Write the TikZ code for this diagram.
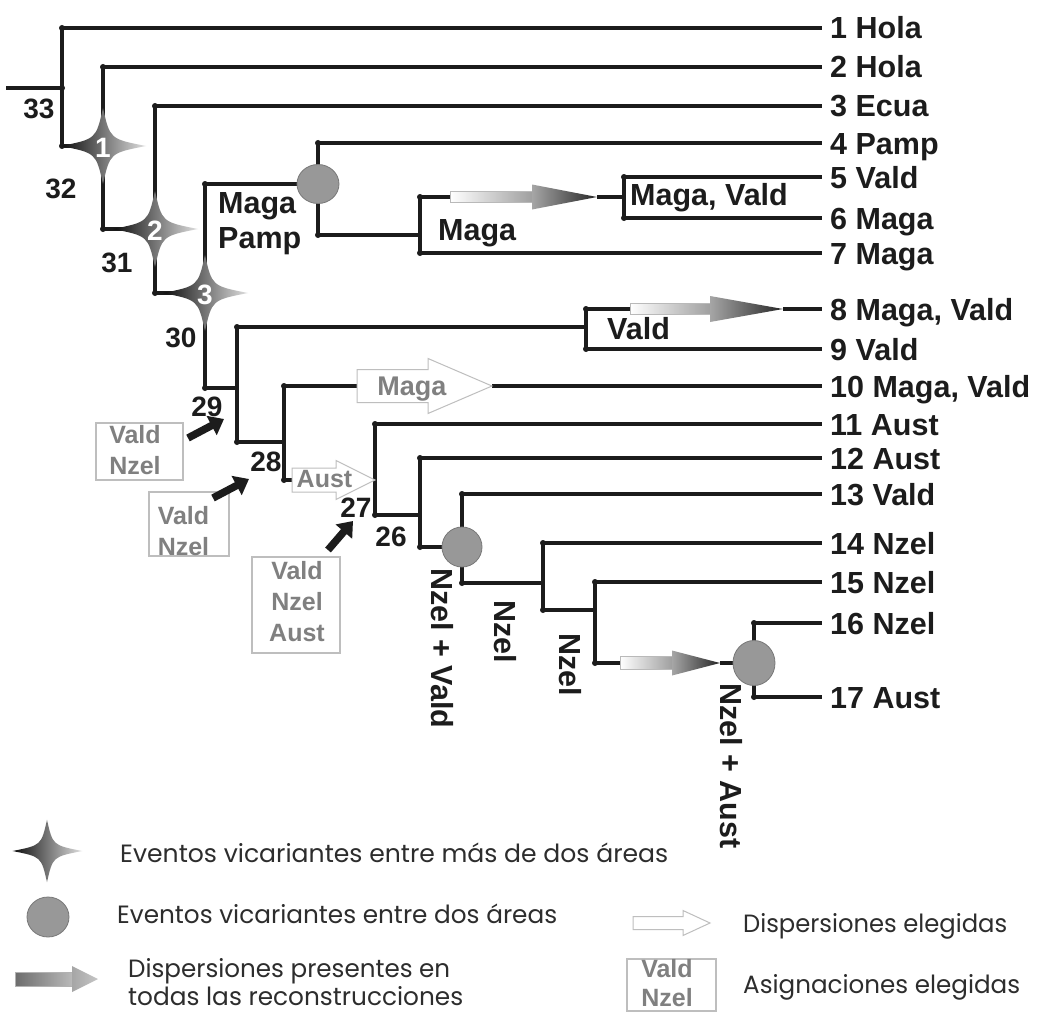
\documentclass[tikz,border=0pt]{standalone}
\usepackage{fontspec}
\setmainfont{Liberation Sans}
\newfontfamily\legfont{Poppins}
\usepackage{graphicx}
\usetikzlibrary{calc,arrows.meta,shapes.geometric}
\definecolor{treeline}{RGB}{28,28,28}
\definecolor{circfill}{RGB}{152,152,152}
\definecolor{circdraw}{RGB}{120,120,120}
\definecolor{gtext}{RGB}{128,128,128}
\definecolor{gbord}{RGB}{190,190,190}
\definecolor{legtext}{RGB}{45,45,45}
\newcommand{\gradarr}[5]{%
  \path[draw=gray!55, line width=0.6pt, left color=white, right color=gray!75]
    ($(#1)+(0,-#4)$) rectangle ($(#2)+(-#3,#4)$);
  \path[left color=gray!70, right color=black!85]
    ($(#2)+(-#3,-#5)$) -- (#2) -- ($(#2)+(-#3,#5)$) -- cycle;
}
\newcommand{\hollowarr}[5]{%
  \draw[hol] ($(#1)+(0,-#4)$) -- ($(#2)+(-#3,-#4)$) -- ($(#2)+(-#3,-#5)$) -- (#2)
    -- ($(#2)+(-#3,#5)$) -- ($(#2)+(-#3,#4)$) -- ($(#1)+(0,#4)$) -- cycle;
}
\tikzset{
  tree/.style={draw=treeline, line width=3.3pt},
  leaf/.style={anchor=base west, inner sep=0, font=\bfseries\fontsize{30.5}{36}\selectfont, text=treeline},
  rlab/.style={leaf, anchor=west, rotate=-90},
  num/.style={inner sep=0, font=\bfseries\fontsize{28}{32}\selectfont, text=treeline},
  starnum/.style={inner sep=0, font=\bfseries\fontsize{28}{32}\selectfont, text=white},
  vcirc/.style={ellipse, draw=circdraw, fill=circfill, line width=0.8pt, inner sep=0},
  gbox/.style={draw=gbord, line width=1.2pt, inner sep=0},
  gtxt/.style={inner sep=0, align=center, font=\bfseries\fontsize{25}{31}\selectfont, text=gtext},
  blkarr/.style={draw=treeline, line width=7.5pt, -{Triangle[length=14pt,width=21pt]}},
  leg/.style={anchor=base west, inner sep=0, font=\legfont\fontsize{25}{30}\selectfont, text=legtext},
  hol/.style={draw=gbord, line width=1pt, fill=white},
  vstar/.pic={
    \path[left color=black!95, right color=gray!25]
      (0,-38) .. controls (7,-7) .. (43,0) .. controls (7,7) .. (0,38)
      .. controls (-7,7) .. (-42,0) .. controls (-7,-7) .. cycle;
  }
}
\begin{document}
\begin{tikzpicture}[x=1pt,y=-1pt]
\fill[white] (0,0) rectangle (1044,1014);
\useasboundingbox (0,0) rectangle (1044,1014);
% internal nodes
\coordinate (r) at (6,88);
\coordinate (n33) at (62,88);
\coordinate (n32) at (103,146);
\coordinate (n31) at (155,229);
\coordinate (n30) at (205,293);
\coordinate (nMP) at (318,184);
\coordinate (n7) at (420,235);
\coordinate (n56) at (624,197);
\coordinate (n29) at (237,388);
\coordinate (n89) at (586,327);
\coordinate (n28) at (284,442);
\coordinate (n27) at (375,480);
\coordinate (n26) at (420,515);
\coordinate (nC) at (462,547);
\coordinate (n14) at (543,583);
\coordinate (n15) at (595,610);
\coordinate (nC2) at (754,663);
% leaves
\coordinate (l1) at (822,28);
\coordinate (l2) at (822,67);
\coordinate (l3) at (822,106);
\coordinate (l4) at (822,143);
\coordinate (l5) at (822,177);
\coordinate (l6) at (822,218);
\coordinate (l7) at (822,253);
\coordinate (l8) at (822,309);
\coordinate (l9) at (822,349);
\coordinate (l10) at (822,386);
\coordinate (l11) at (822,424);
\coordinate (l12) at (822,458);
\coordinate (l13) at (822,494);
\coordinate (l14) at (822,543);
\coordinate (l15) at (822,582);
\coordinate (l16) at (822,623);
\coordinate (l17) at (822,697);
% arrow ends
\coordinate (a1s) at (450,197); \coordinate (a1e) at (597,197);
\coordinate (a2s) at (630,309); \coordinate (a2e) at (783,309);
\coordinate (a3s) at (620,663); \coordinate (a3e) at (720,663);
\coordinate (h1s) at (357,386); \coordinate (h1e) at (492,386);
\coordinate (h2s) at (292,480);
% tree branches
\draw[tree] (r) -- (n33);
\draw[tree] (n33) |- (l1); \draw[tree] (n33) |- (n32);
\draw[tree] (n32) |- (l2); \draw[tree] (n32) |- (n31);
\draw[tree] (n31) |- (l3); \draw[tree] (n31) |- (n30);
\draw[tree] (n30) |- (nMP); \draw[tree] (n30) |- (n29);
\draw[tree] (nMP) |- (l4); \draw[tree] (nMP) |- (n7);
\draw[tree] (n7) |- (a1s); \draw[tree] (a1e) -- (n56); \draw[tree] (n7) |- (l7);
\draw[tree] (n56) |- (l5); \draw[tree] (n56) |- (l6);
\draw[tree] (n29) |- (n89); \draw[tree] (n29) |- (n28);
\draw[tree] (n89) |- (a2s); \draw[tree] (a2e) -- (l8); \draw[tree] (n89) |- (l9);
\draw[tree] (n28) |- (h1s); \draw[tree] (h1e) -- (l10); \draw[tree] (n28) |- (h2s);
\draw[tree] (n27) |- (l11); \draw[tree] (n27) |- (n26);
\draw[tree] (n26) |- (l12); \draw[tree] (n26) |- (nC);
\draw[tree] (nC) |- (l13); \draw[tree] (nC) |- (n14);
\draw[tree] (n14) |- (l14); \draw[tree] (n14) |- (n15);
\draw[tree] (n15) |- (l15); \draw[tree] (n15) |- (a3s); \draw[tree] (a3e) -- (nC2);
\draw[tree] (nC2) |- (l16); \draw[tree] (nC2) |- (l17);
% junction dots
\foreach \a/\b in {n33/n33,n33/l1,n33/n32,n32/l2,n32/n31,n31/l3,n31/n30,n30/nMP,n30/n29,
  nMP/l4,nMP/n7,n7/a1s,n7/l7,n56/l5,n56/l6,n29/n89,n29/n28,n89/a2s,n89/l9,n28/h1s,n28/h2s,
  n27/l11,n27/n26,n26/l12,n26/nC,nC/l13,nC/n14,n14/l14,n14/n15,n15/l15,n15/a3s,nC2/l16,nC2/l17}
  \fill[treeline] (\a|-\b) circle (3);
% dispersal arrows
\gradarr{a1s}{a1e}{65}{5.5}{12.5}
\gradarr{a2s}{a2e}{73}{5.5}{13}
\gradarr{a3s}{a3e}{48}{6.5}{12.5}
\hollowarr{h1s}{h1e}{64}{16.5}{27.5}
\hollowarr{h2s}{n27}{39}{12}{19.5}
\node[gtxt, anchor=base, font=\bfseries\fontsize{27}{32}\selectfont] (hm) at (412,395) {Maga};
\node[gtxt, anchor=base] (ha) at (324.5,487) {Aust};
% vicariance circles
\node[vcirc, minimum width=42, minimum height=39] (cMP) at (nMP) {};
\node[vcirc, minimum width=40, minimum height=40] (cC) at (nC) {};
\node[vcirc, minimum width=42, minimum height=45] (cC2) at (nC2) {};
% vicariance stars
\pic at (n32) {vstar};
\pic at (n31) {vstar};
\pic at (n30) {vstar};
\node[starnum] (s1) at ($(n32)+(0,2)$) {1};
\node[starnum] (s2) at ($(n31)+(0,2)$) {2};
\node[starnum] (s3) at ($(n30)+(0,2)$) {3};
% node numbers
\node[num] (k33) at (39,109) {33};
\node[num] (k32) at (61,189) {32};
\node[num] (k31) at (117,263) {31};
\node[num] (k30) at (181,338) {30};
\node[num] (k29) at (207,407) {29};
\node[num] (k28) at (266,462) {28};
\node[num] (k27) at (356,508) {27};
\node[num] (k26) at (391,537) {26};
% leaf labels
\node[leaf] (t1) at ($(l1)+(8,11)$) {1 Hola};
\node[leaf] (t2) at ($(l2)+(8,11)$) {2 Hola};
\node[leaf] (t3) at ($(l3)+(8,11)$) {3 Ecua};
\node[leaf] (t4) at ($(l4)+(8,11)$) {4 Pamp};
\node[leaf] (t5) at ($(l5)+(8,11)$) {5 Vald};
\node[leaf] (t6) at ($(l6)+(8,11)$) {6 Maga};
\node[leaf] (t7) at ($(l7)+(8,11)$) {7 Maga};
\node[leaf] (t8) at ($(l8)+(8,11)$) {8 Maga, Vald};
\node[leaf] (t9) at ($(l9)+(8,11)$) {9 Vald};
\node[leaf] (t10) at ($(l10)+(8,11)$) {10 Maga, Vald};
\node[leaf] (t11) at ($(l11)+(8,11)$) {11 Aust};
\node[leaf] (t12) at ($(l12)+(8,11)$) {12 Aust};
\node[leaf] (t13) at ($(l13)+(8,11)$) {13 Vald};
\node[leaf] (t14) at ($(l14)+(8,11)$) {14 Nzel};
\node[leaf] (t15) at ($(l15)+(8,11)$) {15 Nzel};
\node[leaf] (t16) at ($(l16)+(8,11)$) {16 Nzel};
\node[leaf] (t17) at ($(l17)+(8,11)$) {17 Aust};
% ancestral area labels
\node[leaf] (aMP1) at (218,213) {Maga};
\node[leaf] (aMP2) at (218,248) {Pamp};
\node[leaf] (a56) at (630,205) {Maga, Vald};
\node[leaf] (a7) at (438,240) {Maga};
\node[leaf] (a89) at (607,339) {Vald};
\node[rlab] (aC) at (442,568) {Nzel + Vald};
\node[rlab] (aN1) at (505,600) {Nzel};
\node[rlab] (aN2) at (570,633) {Nzel};
\node[rlab] (aC2) at (731,683) {Nzel + Aust};
% chosen assignments
\node[gbox, minimum width=87, minimum height=57] (bx1) at (139.5,451.5) {};
\node[gbox, minimum width=80, minimum height=64] (bx2) at (189,524) {};
\node[gbox, minimum width=88, minimum height=96] (bx3) at (296,605) {};
\node[gtxt] (bt1) at (135,450.5) {Vald\\Nzel};
\node[gtxt] (bt2) at (183.5,531) {Vald\\Nzel};
\node[gtxt] (bt3) at (297,602) {Vald\\Nzel\\Aust};
\coordinate (ba1s) at (188,438); \coordinate (ba1e) at (224,419);
\coordinate (ba2s) at (213,498); \coordinate (ba2e) at (249,479);
\coordinate (ba3s) at (328,550); \coordinate (ba3e) at (353,521);
\draw[blkarr] (ba1s) -- (ba1e);
\draw[blkarr] (ba2s) -- (ba2e);
\draw[blkarr] (ba3s) -- (ba3e);
% legend
\pic[scale=0.82] at (47,851) {vstar};
\node[leg] (L1) at (120,862) {\resizebox{548pt}{\height}{Eventos vicariantes entre más de dos áreas}};
\node[vcirc, minimum width=42, minimum height=40] (cL) at (48,917) {};
\node[leg] (L2) at (117,923) {\resizebox{440pt}{\height}{Eventos vicariantes entre dos áreas}};
\coordinate (da1) at (15,979); \coordinate (da2) at (98,979);
\path[draw=gray!60, line width=0.6pt, left color=gray!85!black, right color=gray!55] ($(da1)+(0,-7)$) rectangle ($(da2)+(-26,7)$);
\path[left color=gray!70, right color=gray!45] ($(da2)+(-26,-13)$) -- (da2) -- ($(da2)+(-26,13)$) -- cycle;
\node[leg] (L3) at (128,977) {\resizebox{322pt}{\height}{Dispersiones presentes en}};
\node[leg] (L4) at (128,1005) {\resizebox{335pt}{\height}{todas las reconstrucciones}};
\coordinate (ha1) at (633,923); \coordinate (ha2) at (710,923);
\hollowarr{ha1}{ha2}{27}{6.5}{12.5}
\node[leg] (L5) at (743,932) {\resizebox{264pt}{\height}{Dispersiones elegidas}};
\node[gbox, minimum width=89, minimum height=52] (bxL) at (671.5,985) {};
\node[gtxt, font=\bfseries\fontsize{25}{29}\selectfont] (btL) at (667,983) {Vald\\Nzel};
\node[leg] (L6) at (743,993) {\resizebox{277pt}{\height}{Asignaciones elegidas}};
\end{tikzpicture}
\end{document}
